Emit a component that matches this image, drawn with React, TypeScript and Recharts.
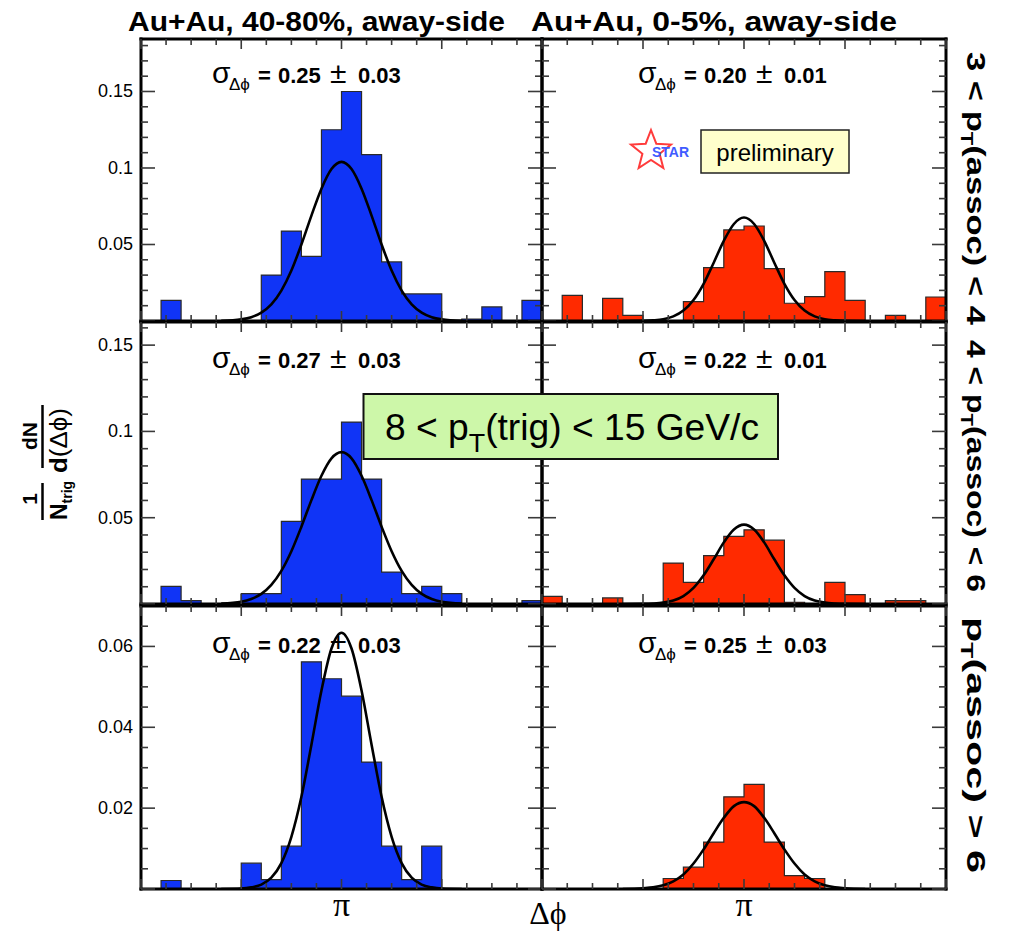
import React from 'react';
import { ComposedChart, Area, Line, XAxis, YAxis } from 'recharts';

// away-side window: 20 bins from pi/2 to 3pi/2
const PHI_LO = Math.PI / 2;
const PHI_HI = (3 * Math.PI) / 2;
const BIN_W = Math.PI / 20;

// per-trigger yields, one value per bin
const periph_3to4 = [0, 0.0135, 0, 0, 0, 0, 0.03, 0.0588, 0.0423, 0.125, 0.15, 0.1087, 0.0386, 0.0177, 0.0177, 0, 0.0013, 0.0092, 0, 0.0135];
const central_3to4 = [0, 0.0168, 0, 0.0148, 0.0037, 0, 0, 0.0126, 0.0349, 0.0595, 0.0621, 0.0342, 0.0116, 0.0159, 0.0323, 0.0135, 0, 0.0037, 0, 0.0157];
const periph_4to6 = [0, 0.0102, 0.0019, 0, 0, 0.006, 0.006, 0.0479, 0.0724, 0.0724, 0.1054, 0.0724, 0.0185, 0.006, 0.0102, 0.006, 0, 0, 0, 0.0019];
const central_4to6 = [0.0044, 0, 0, 0.0035, 0, 0, 0.0237, 0.0125, 0.028, 0.0392, 0.043, 0.037, 0.001, 0, 0.0125, 0.0054, 0, 0.0019, 0.0019, 0];
const periph_6up = [0, 0.0021, 0, 0, 0, 0.0064, 0.0023, 0.0106, 0.0562, 0.052, 0.0477, 0.0314, 0.0106, 0.0023, 0.0106, 0, 0, 0, 0, 0];
const central_6up = [0, 0, 0, 0, 0, 0, 0.0026, 0.0054, 0.0116, 0.0228, 0.0259, 0.0116, 0.0033, 0.0026, 0, 0, 0, 0, 0, 0];

// gaussian fit curves, sampled at these offsets from pi (in bin widths)
const FIT_OFFSETS = [-6, -5, -4.5, -4, -3.5, -3, -2.5, -2, -1.5, -1, -0.5, 0, 0.5, 1, 1.5, 2, 2.5, 3, 3.5, 4, 4.5, 5, 6];
const fit_periph_3to4 = [0.0001, 0.0011, 0.0025, 0.0055, 0.0109, 0.0199, 0.033, 0.05, 0.0689, 0.0865, 0.0993, 0.104, 0.0993, 0.0865, 0.0689, 0.05, 0.033, 0.0199, 0.0109, 0.0055, 0.0025, 0.0011, 0.0001];
const fit_central_3to4 = [0, 0.0001, 0.0004, 0.0011, 0.003, 0.0068, 0.0137, 0.0243, 0.0381, 0.0524, 0.0634, 0.0676, 0.0634, 0.0524, 0.0381, 0.0243, 0.0137, 0.0068, 0.003, 0.0011, 0.0004, 0.0001, 0];
const fit_periph_4to6 = [0.0002, 0.0013, 0.0029, 0.0059, 0.0111, 0.0192, 0.0306, 0.0448, 0.0602, 0.0743, 0.0844, 0.088, 0.0844, 0.0743, 0.0602, 0.0448, 0.0306, 0.0192, 0.0111, 0.0059, 0.0029, 0.0013, 0.0002];
const fit_central_4to6 = [0, 0.0001, 0.0003, 0.0008, 0.002, 0.0046, 0.0093, 0.0166, 0.0259, 0.0357, 0.0432, 0.046, 0.0432, 0.0357, 0.0259, 0.0166, 0.0093, 0.0046, 0.002, 0.0008, 0.0003, 0.0001, 0];
const fit_periph_6up = [0, 0.0001, 0.0004, 0.0011, 0.0028, 0.0064, 0.0129, 0.0228, 0.0357, 0.0491, 0.0595, 0.0634, 0.0595, 0.0491, 0.0357, 0.0228, 0.0129, 0.0064, 0.0028, 0.0011, 0.0004, 0.0001, 0];
const fit_central_6up = [0, 0.0002, 0.0004, 0.0009, 0.0019, 0.0036, 0.0063, 0.0098, 0.0138, 0.0176, 0.0205, 0.0215, 0.0205, 0.0176, 0.0138, 0.0098, 0.0063, 0.0036, 0.0019, 0.0009, 0.0004, 0.0002, 0];

// fitted widths written in each panel
const SIGMAS = [
  ['0.25', '0.03'], ['0.20', '0.01'],
  ['0.27', '0.03'], ['0.22', '0.01'],
  ['0.22', '0.03'], ['0.25', '0.03'],
];

const COLUMN_TITLES = ['Au+Au, 40-80%, away-side', 'Au+Au, 0-5%, away-side'];

const SANS = '"Liberation Sans", Arial, Helvetica, sans-serif';
const SERIF = '"Liberation Serif", "Times New Roman", serif';
const BLUE = '#1034f6';
const RED = '#ff2a00';
const TICK = '#3a3a3a';

const COLS = [
  { x0: 141, w: 401, color: BLUE, sigmaX: 212 },
  { x0: 542, w: 404, color: RED, sigmaX: 638 },
];
const ROWS = [
  { y0: 39, h: 282, yMax: 0.1843, yStep: 0.01, majorEvery: 5, nTicks: 19, sigmaY: 83 },
  { y0: 322, h: 282, yMax: 0.1634, yStep: 0.01, majorEvery: 5, nTicks: 17, sigmaY: 367.5 },
  { y0: 606, h: 283, yMax: 0.07, yStep: 0.005, majorEvery: 4, nTicks: 14, sigmaY: 653 },
];

const PANELS = [
  { bins: periph_3to4, fit: fit_periph_3to4 },
  { bins: central_3to4, fit: fit_central_3to4 },
  { bins: periph_4to6, fit: fit_periph_4to6 },
  { bins: central_4to6, fit: fit_central_4to6 },
  { bins: periph_6up, fit: fit_periph_6up },
  { bins: central_6up, fit: fit_central_6up },
];

const xTicks = Array.from({ length: 17 }, (_, i) => PHI_LO + (i * Math.PI) / 16);

const histPoints = (vals: number[]) =>
  [...vals, vals[vals.length - 1]].map((v, i) => ({ phi: PHI_LO + i * BIN_W, v }));

const fitPoints = (vals: number[]) =>
  FIT_OFFSETS.map((d, i) => ({ phi: Math.PI + d * BIN_W, v: vals[i] }));

const fmt = (v: number) => String(+v.toFixed(3));

const frameLine = { stroke: '#000', strokeWidth: 3, strokeLinecap: 'square' as const };

function Panel({ col, row, bins, fit, yLabels, piLabel }: any) {
  // axes get 1px of room each (recharts skips zero-sized axes)
  const ML = 70, MR = 12, MT = 12, MB = 45;
  const yTicks = Array.from({ length: row.nTicks }, (_, i) => +(i * row.yStep).toFixed(4));
  const isMajorY = (i: number) => i % row.majorEvery === 0;

  const bottomTick = (p: any) => {
    const len = p.index % 4 === 0 ? 10 : 6;
    return (
      <g>
        <line x1={p.x} x2={p.x} y1={p.y} y2={p.y - len} stroke={TICK} strokeWidth={1.6} />
        {piLabel && p.index === 8 && (
          <text x={p.x} y={p.y + 27} textAnchor="middle" fontFamily={SERIF} fontSize={34}>π</text>
        )}
      </g>
    );
  };
  const topTick = (p: any) => {
    const len = p.index % 4 === 0 ? 10 : 6;
    return <line x1={p.x} x2={p.x} y1={p.y} y2={p.y + len} stroke={TICK} strokeWidth={1.6} />;
  };
  const leftTick = (p: any) => {
    const major = isMajorY(p.index);
    return (
      <g>
        <line x1={p.x} x2={p.x + (major ? 14 : 7)} y1={p.y} y2={p.y} stroke={TICK} strokeWidth={1.6} />
        {yLabels && major && p.index > 0 && (
          <text x={p.x - 8} y={p.y} dy={6} textAnchor="end" fontFamily={SANS} fontSize={18}>
            {fmt(p.payload.value)}
          </text>
        )}
      </g>
    );
  };
  const rightTick = (p: any) => {
    const major = isMajorY(p.index);
    return <line x1={p.x} x2={p.x - (major ? 14 : 7)} y1={p.y} y2={p.y} stroke={TICK} strokeWidth={1.6} />;
  };

  return (
    <div style={{ position: 'absolute', left: col.x0 - ML, top: row.y0 - MT }}>
      <ComposedChart
        width={col.w + ML + MR}
        height={row.h + MT + MB}
        margin={{ top: MT - 1, right: MR - 1, bottom: MB - 1, left: ML - 1 }}
      >
        <Area
          xAxisId="b"
          yAxisId="l"
          data={histPoints(bins)}
          dataKey="v"
          type="stepAfter"
          fill={col.color}
          fillOpacity={1}
          stroke="#2a2a2a"
          strokeWidth={1.2}
          isAnimationActive={false}
        />
        <Line
          xAxisId="b"
          yAxisId="l"
          data={fitPoints(fit)}
          dataKey="v"
          type="monotone"
          stroke="#000"
          strokeWidth={2.6}
          dot={false}
          isAnimationActive={false}
        />
        <XAxis xAxisId="b" type="number" dataKey="phi" domain={[PHI_LO, PHI_HI]} ticks={xTicks}
          interval={0} height={1} tickSize={0} tickMargin={0} tickLine={false} axisLine={frameLine}
          tick={bottomTick} allowDataOverflow />
        <XAxis xAxisId="t" orientation="top" type="number" dataKey="phi" domain={[PHI_LO, PHI_HI]} ticks={xTicks}
          interval={0} height={1} tickSize={0} tickMargin={0} tickLine={false} axisLine={frameLine}
          tick={topTick} allowDataOverflow />
        <YAxis yAxisId="l" type="number" domain={[0, row.yMax]} ticks={yTicks} interval={0}
          width={1} tickSize={0} tickMargin={0} tickLine={false} axisLine={frameLine}
          tick={leftTick} allowDataOverflow />
        <YAxis yAxisId="r" orientation="right" type="number" domain={[0, row.yMax]} ticks={yTicks} interval={0}
          width={1} tickSize={0} tickMargin={0} tickLine={false} axisLine={frameLine}
          tick={rightTick} allowDataOverflow />
      </ComposedChart>
    </div>
  );
}

function SigmaLabel({ x, y, val, err }: any) {
  return (
    <text y={y} fontFamily={SANS} fill="#000">
      <tspan x={x} fontSize={30}>σ</tspan>
      <tspan x={x + 17} dy={7} fontSize={17}>Δϕ</tspan>
      <tspan x={x + 46} dy={-7} fontSize={22} fontWeight="bold">=</tspan>
      <tspan x={x + 66} fontSize={22} fontWeight="bold">{val}</tspan>
      <tspan x={x + 118} fontSize={30}>±</tspan>
      <tspan x={x + 146} fontSize={22} fontWeight="bold">{err}</tspan>
    </text>
  );
}

function starPoints(cx: number, cy: number, ro: number, ri: number) {
  const pts: string[] = [];
  for (let k = 0; k < 10; k++) {
    const a = (-90 + k * 36) * (Math.PI / 180);
    const r = k % 2 === 0 ? ro : ri;
    pts.push(`${(cx + r * Math.cos(a)).toFixed(1)},${(cy + r * Math.sin(a)).toFixed(1)}`);
  }
  return pts.join(' ');
}

export default function App() {
  return (
    <div style={{ position: 'absolute', left: 0, top: 0, width: 1010, height: 932, background: '#fff', overflow: 'hidden' }}>
      {PANELS.map((p, i) => (
        <Panel
          key={i}
          col={COLS[i % 2]}
          row={ROWS[Math.floor(i / 2)]}
          bins={p.bins}
          fit={p.fit}
          yLabels={i % 2 === 0}
          piLabel={i >= 4}
        />
      ))}
      <svg width={1010} height={932} style={{ position: 'absolute', left: 0, top: 0, pointerEvents: 'none' }}>
        {/* column titles */}
        <text x={128} y={31} fontFamily={SANS} fontWeight="bold" fontSize={27} textLength={377} lengthAdjust="spacingAndGlyphs">
          {COLUMN_TITLES[0]}
        </text>
        <text x={531} y={31} fontFamily={SANS} fontWeight="bold" fontSize={27} textLength={366} lengthAdjust="spacingAndGlyphs">
          {COLUMN_TITLES[1]}
        </text>

        {PANELS.map((_, i) => (
          <SigmaLabel key={i} x={COLS[i % 2].sigmaX} y={ROWS[Math.floor(i / 2)].sigmaY} val={SIGMAS[i][0]} err={SIGMAS[i][1]} />
        ))}

        {/* row labels on the right */}
        <text transform="translate(967, 52) rotate(90)" fontFamily={SANS} fontWeight="bold" fontSize={25} textLength={273} lengthAdjust="spacingAndGlyphs">
          3 &lt; p<tspan dy={6} fontSize={16}>T</tspan><tspan dy={-6}>(assoc) &lt; 4</tspan>
        </text>
        <text transform="translate(967, 340) rotate(90)" fontFamily={SANS} fontWeight="bold" fontSize={25} textLength={252} lengthAdjust="spacingAndGlyphs">
          4 &lt; p<tspan dy={6} fontSize={16}>T</tspan><tspan dy={-6}>(assoc) &lt; 6</tspan>
        </text>
        <text transform="translate(967, 617) rotate(90)" fontFamily={SANS} fontWeight="bold" fontSize={25} textLength={256} lengthAdjust="spacingAndGlyphs">
          p<tspan dy={6} fontSize={16}>T</tspan><tspan dy={-6}>(assoc) &gt; 6</tspan>
        </text>

        {/* y-axis title */}
        <text transform="translate(37, 499) rotate(-90)" textAnchor="middle" fontFamily={SANS} fontWeight="bold" fontSize={21}>1</text>
        <line x1={42.5} x2={42.5} y1={483} y2={520} stroke="#000" strokeWidth={2.5} />
        <text transform="translate(67, 520) rotate(-90)" fontFamily={SANS} fontWeight="bold" fontSize={23}>
          N<tspan dy={5} fontSize={14}>trig</tspan>
        </text>
        <text transform="translate(37, 436) rotate(-90)" textAnchor="middle" fontFamily={SANS} fontWeight="bold" fontSize={21}>dN</text>
        <line x1={42.5} x2={42.5} y1={405} y2={468} stroke="#000" strokeWidth={2.5} />
        <text transform="translate(67, 473) rotate(-90)" fontFamily={SANS} fontSize={23} textLength={65} lengthAdjust="spacingAndGlyphs">
          <tspan fontWeight="bold">d</tspan>(Δϕ)
        </text>

        {/* x-axis title */}
        <text x={548} y={924} textAnchor="middle" fontFamily={SERIF} fontSize={32}>Δϕ</text>

        {/* trigger window box */}
        <rect x={363.5} y={394} width={414.5} height={65} fill="#cdf7a9" stroke="#111" strokeWidth={2} />
        <text x={385} y={440} fontFamily={SANS} fontSize={36} textLength={374} lengthAdjust="spacingAndGlyphs">
          8 &lt; p<tspan dy={12} fontSize={26}>T</tspan><tspan dy={-12}>(trig) &lt; 15 GeV/c</tspan>
        </text>

        {/* STAR preliminary */}
        <polygon points={starPoints(651, 151, 21, 9)} fill="none" stroke="#ff3b3b" strokeWidth={2} />
        <text x={652} y={157} fontFamily={SANS} fontWeight="bold" fontSize={14} fill="#3f5bff">STAR</text>
        <rect x={701} y={130} width={148} height={43} fill="#ffffcc" stroke="#222" strokeWidth={1.5} />
        <text x={775} y={161} textAnchor="middle" fontFamily={SANS} fontSize={24}>preliminary</text>
      </svg>
    </div>
  );
}
